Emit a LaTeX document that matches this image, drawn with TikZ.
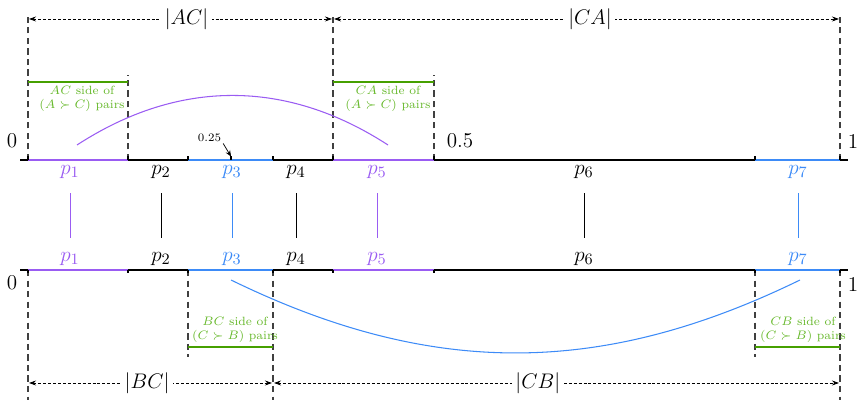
\documentclass[tikz,border=0pt]{standalone}
\usepackage{xcolor}
\definecolor{cPurple}{HTML}{9A5CF2}
\definecolor{cBlue}{HTML}{3D8BF7}
\definecolor{cGreen}{HTML}{46A000}
\definecolor{cGreenText}{HTML}{66B82A}
\definecolor{cGray}{HTML}{404040}
\usepackage{tikz}
\usetikzlibrary{positioning,arrows.meta,calc}
\tikzset{
  axis-line/.style={line width=1.4pt,draw=black},
  axis-seg/.style={line width=1.4pt},
  axis-tick/.style={line width=1.6pt,draw=black},
  guide-line/.style={draw=cGray,line width=0.7pt,dash pattern=on 3.6pt off 2.4pt},
  dim-arrow/.style={{Stealth[length=1.4mm,width=1mm]}-{Stealth[length=1.4mm,width=1mm]},
    line width=0.4pt,dash pattern=on 1.7pt off 1.1pt,shorten <=0.6pt,shorten >=0.6pt},
  dim-label/.style={fill=white,inner sep=2pt,font=\fontsize{12}{14}\selectfont},
  side-bar/.style={draw=cGreen,line width=1.6pt},
  side-label/.style={text=cGreenText,font=\fontsize{6.8}{8}\selectfont,align=center,inner sep=0.5pt},
  p-label/.style={font=\fontsize{13}{15}\selectfont,inner sep=1pt},
  val-label/.style={font=\large,inner sep=1pt},
  link/.style={line width=0.5pt,shorten <=2.6mm,shorten >=2.6mm},
  pair-arc/.style={line width=0.6pt},
}

\begin{document}
\begin{tikzpicture}[x=0.2mm,y=0.2mm]
  \useasboundingbox (0,0) rectangle (863,408);
  % guides from the top line
  \foreach \x/\ytop in {28/393,128/333,333/393,434/333,840/393}
    \draw[guide-line] (\x,248) -- (\x,\ytop);
  % guides from the bottom line
  \foreach \x/\ybot in {28/8,188/51,273/8,755/51,840/8}
    \draw[guide-line] (\x,138) -- (\x,\ybot);
  % lengths
  \coordinate (acL) at (28,389);
  \coordinate (acR) at (333,389);
  \coordinate (caR) at (840,389);
  \coordinate (bcL) at (28,25);
  \coordinate (bcR) at (273,25);
  \coordinate (cbR) at (840,25);
  \draw[dim-arrow] (acL) -- node[dim-label,pos=0.52] (lenAC) {$|AC|$} (acR);
  \draw[dim-arrow] (acR) -- node[dim-label,pos=0.507] (lenCA) {$|CA|$} (caR);
  \draw[dim-arrow] (bcL) -- node[dim-label,pos=0.486] (lenBC) {$|BC|$} (bcR);
  \draw[dim-arrow] (bcR) -- node[dim-label,pos=0.467] (lenCB) {$|CB|$} (cbR);
  % green sides
  \draw[side-bar] (28,326) -- (128,326);
  \draw[side-bar] (333,326) -- (434,326);
  \draw[side-bar] (188,61) -- (273,61);
  \draw[side-bar] (755,61) -- (840,61);
  \node[side-label,below] (sideAC) at (82,323) {$AC$ side of\\$(A\succ C)$ pairs};
  \node[side-label,below] (sideCA) at (388,323) {$CA$ side of\\$(A\succ C)$ pairs};
  \node[side-label,above] (sideBC) at (235,64) {$BC$ side of\\$(C\succ B)$ pairs};
  \node[side-label,above] (sideCB) at (803,64) {$CB$ side of\\$(C\succ B)$ pairs};
  % the two unit lines
  \draw[axis-line] (20,248) -- (848,248);
  \draw[axis-line] (20,138) -- (848,138);
  \foreach \xa/\xb/\col/\xl/\i in {28/128/cPurple/70/1,128/188/black/161/2,
      188/273/cBlue/232/3,273/333/black/296/4,333/434/cPurple/377/5,
      434/755/black/584/6,755/840/cBlue/798/7}{
    \draw[axis-seg,draw=\col] (\xa,248) -- (\xb,248);
    \draw[axis-seg,draw=\col] (\xa,138) -- (\xb,138);
    \node[p-label,text=\col,below] (pt\i) at (\xl,245) {$p_{\i}$};
    \node[p-label,text=\col,above] (pb\i) at (\xl,140) {$p_{\i}$};
    \draw[link,draw=\col] (pt\i) -- (pb\i);
  }
  \foreach \x in {28,128,188,231,273,333,434,755,840}
    \draw[axis-tick] (\x,248) -- (\x,251.5);
  \foreach \x in {28,128,188,273,333,434,755,840}
    \draw[axis-tick] (\x,138) -- (\x,134.5);
  % values
  \node[val-label] (zeroT) at (12,267) {0};
  \node[val-label] (halfT) at (460,267) {0.5};
  \node[val-label] (oneT) at (853,267) {1};
  \node[val-label] (zeroB) at (12,125) {0};
  \node[val-label] (oneB) at (853,124) {1};
  \coordinate (t25) at (231,251.5);
  \node[font=\fontsize{6.5}{7}\selectfont,inner sep=1pt] (q25) at (209.5,270.5) {0.25};
  \draw[-{Stealth[length=1.2mm,width=1mm]},line width=0.4pt] (q25.south east) -- (t25);
  % pairs
  \coordinate (arcP1) at (77,263);
  \coordinate (arcP5) at (388,263);
  \coordinate (arcB3) at (231,128);
  \coordinate (arcB7) at (800,128);
  \draw[pair-arc,draw=cPurple] (arcP1) to[bend left=33] (arcP5);
  \draw[pair-arc,draw=cBlue] (arcB3) to[bend right=26] (arcB7);
\end{tikzpicture}
\end{document}
